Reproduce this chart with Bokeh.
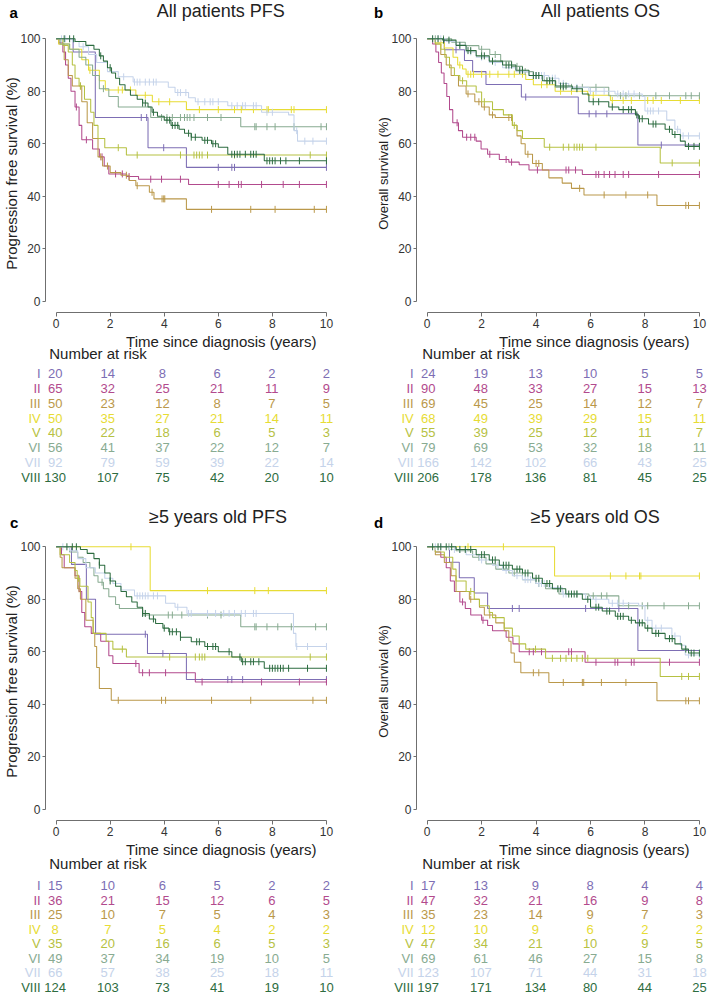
import math
from bokeh.plotting import figure
from bokeh.models import Range1d, FixedTicker, ColumnDataSource
from bokeh.layouts import column, row
from bokeh.embed import file_html
from bokeh.resources import INLINE
from bokeh.core.properties import value

FONT = "Liberation Sans"
GROUPS = ["I", "II", "III", "IV", "V", "VI", "VII", "VIII"]
COLORS = ["#7D6EB4", "#B24A8D", "#BA984A", "#E7DC34", "#B6C142", "#88AB91", "#C5D3EA", "#2D6C40"]
X_TICKS = [0, 2, 4, 6, 8, 10]
Y_TICKS = [0, 20, 40, 60, 80, 100]
RISK_TIMES = [0, 2, 4, 6, 8, 10]
X_TITLE = "Time since diagnosis (years)"
RISK_TITLE = "Number at risk"

# ---------------- Panel a: All patients PFS ----------------
A_I_T = [0, 0.63, 1.45, 3.4, 4.82, 10]
A_I_S = [100, 95, 70, 58.5, 51, 51]
A_I_C = [3.15, 3.35, 3.98, 6.0, 6.5, 6.6, 10.0]
A_II_T = [0, 0.1, 0.25, 0.35, 0.45, 0.55, 0.7, 0.85, 0.95, 1.35, 1.6, 1.78, 1.95, 2.6, 3.05, 4.9, 10]
A_II_S = [100, 98.5, 95, 90, 85, 80, 74, 67, 61.5, 58, 55, 51.5, 48.5, 47.5, 46.5, 44.5, 44.5]
A_II_C = [0.75, 1.12, 1.7, 2.2, 2.45, 2.7, 3.5, 3.9, 4.6, 6.0, 6.4, 6.75, 6.85, 7.6, 8.4, 9.0, 10.0]
A_III_T = [0, 0.1, 0.3, 0.45, 0.6, 0.95, 1.15, 1.35, 1.55, 1.72, 2.0, 2.4, 2.7, 2.95, 3.45, 3.62, 4.82, 10]
A_III_S = [100, 98, 92, 86, 82, 76, 68, 62, 55, 51.5, 49, 48, 46, 44, 41.5, 39, 35, 35]
A_III_C = [0.9, 1.65, 1.9, 2.6, 3.0, 3.55, 3.92, 3.98, 4.02, 5.75, 7.2, 8.1, 9.55, 10.0]
A_IV_T = [0, 0.1, 0.5, 0.95, 1.2, 1.6, 1.82, 2.95, 3.56, 4.82, 10]
A_IV_S = [100, 98, 96, 92, 88, 84, 80.5, 78.5, 76, 73, 73]
A_IV_C = [1.25, 2.3, 2.45, 2.75, 3.3, 3.8, 4.2, 5.3, 6.0, 6.6, 6.85, 7.3, 7.8, 7.85, 8.7, 8.8, 10.0]
A_V_T = [0, 0.25, 0.45, 0.6, 0.7, 0.85, 1.05, 1.28, 1.4, 1.55, 1.8, 2.6, 10]
A_V_S = [100, 97.5, 95, 90, 85, 82, 77, 72, 67, 62, 58.5, 55.7, 55.7]
A_V_C = [0.9, 2.3, 3.0, 4.6, 5.1, 5.2, 5.3, 5.4, 5.6, 6.6, 9.4, 10.0]
A_VI_T = [0, 0.15, 0.5, 0.85, 1.1, 1.35, 1.6, 1.95, 2.3, 3.5, 6.83, 10]
A_VI_S = [100, 98, 96, 93, 90, 86, 81, 78, 74, 70, 66.5, 66.5]
A_VI_C = [1.75, 3.9, 4.1, 4.3, 4.6, 4.75, 4.85, 4.95, 5.1, 5.6, 6.1, 7.35, 7.4, 7.8, 8.1, 8.8, 9.8, 10.0]
A_VII_T = [0, 0.6, 0.85, 1.2, 1.5, 1.9, 2.3, 2.85, 4.15, 4.4, 4.9, 5.15, 6.35, 7.6, 8.6, 8.8, 8.93, 10]
A_VII_S = [100, 99, 97, 94, 91, 87.5, 85.5, 83.5, 81.5, 79.5, 77.5, 76, 74.5, 72, 71, 65, 61, 61]
A_VII_C = [0.2, 0.35, 1.0, 2.5, 2.9, 3.0, 3.1, 3.3, 3.45, 3.6, 3.7, 4.5, 4.6, 4.8, 5.25, 5.5, 5.7,
           5.8, 6.0, 6.5, 6.7, 6.9, 7.0, 7.3, 7.4, 7.8, 8.0, 8.9, 9.2, 9.5, 10.0]
A_VIII_T = [0, 0.7, 1.1, 1.4, 1.6, 1.75, 1.9, 2.05, 2.2, 2.35, 2.55, 2.75, 3.0, 3.2, 3.4, 3.55, 3.75,
            4.0, 4.25, 4.55, 4.75, 5.0, 5.4, 5.75, 6.0, 6.35, 7.7, 10]
A_VIII_S = [100, 99, 97.5, 96, 93.5, 91.5, 89, 87, 85, 82.5, 80.5, 78.5, 77, 75.5, 74, 72, 70.5,
            69, 67, 65.5, 64, 62.5, 61.3, 60, 58.7, 56, 53.5, 53.5]
A_VIII_C = [0.3, 0.5, 0.65, 1.65, 2.0, 3.2, 3.3, 3.6, 4.1, 4.2, 4.3, 4.4, 4.5, 4.9, 5.0, 5.15, 5.5, 5.6,
            5.8, 5.9, 6.5, 6.6, 6.7, 6.8, 7.0, 7.2, 7.3, 7.4, 7.8, 7.9, 8.0, 8.1, 8.3, 8.5, 9.0, 10.0]
A_RISK_I = [20, 14, 8, 6, 2, 2]
A_RISK_II = [65, 32, 25, 21, 11, 9]
A_RISK_III = [50, 23, 12, 8, 7, 5]
A_RISK_IV = [50, 35, 27, 21, 14, 11]
A_RISK_V = [40, 22, 18, 6, 5, 3]
A_RISK_VI = [56, 41, 37, 22, 12, 7]
A_RISK_VII = [92, 79, 59, 39, 22, 14]
A_RISK_VIII = [130, 107, 75, 42, 20, 10]

# ---------------- Panel b: All patients OS ----------------
B_I_T = [0, 0.63, 1.37, 1.67, 2.16, 3.46, 5.55, 7.74, 10]
B_I_S = [100, 95.8, 91.7, 87.5, 82.6, 77.8, 71.4, 59.5, 59.5]
B_I_C = [1.06, 3.62, 5.95, 6.2, 6.6, 8.6]
B_II_T = [0, 0.2, 0.32, 0.42, 0.52, 0.62, 0.72, 0.82, 0.94, 1.15, 1.3, 1.8, 1.98, 2.22, 2.65, 3.0, 3.38, 3.74, 5.7, 10]
B_II_S = [100, 98, 95, 91, 87, 83, 78, 73, 68, 65, 62.5, 61, 58, 56, 54, 53, 52, 50, 48.3, 48.3]
B_II_C = [1.1, 1.45, 1.6, 1.75, 2.3, 2.9, 3.1, 4.05, 5.1, 5.2, 5.45, 6.2, 6.3, 6.5, 6.7, 6.9, 7.2, 7.4, 8.5, 10.0]
B_III_T = [0, 0.3, 0.5, 0.7, 0.88, 1.15, 1.43, 1.75, 2.0, 2.28, 2.5, 3.13, 3.3, 3.45, 3.6, 3.87, 4.23,
           4.47, 4.96, 5.3, 5.76, 8.44, 10]
B_III_S = [100, 98, 94, 90, 86, 82, 79, 76, 74, 71, 70, 67, 63, 60, 56, 52.5, 50, 47, 45, 43, 40.5, 36.5, 36.5]
B_III_C = [1.5, 1.9, 2.1, 2.4, 3.0, 3.1, 3.7, 4.0, 4.1, 5.6, 6.5, 7.3, 8.1, 9.5, 9.6, 10.0]
B_IV_T = [0, 0.3, 0.63, 0.95, 1.12, 1.3, 1.43, 3.62, 3.9, 4.7, 5.9, 6.73, 10]
B_IV_S = [100, 98.5, 96.5, 93, 90, 88.5, 86.5, 84.5, 82.5, 80, 78.5, 76.5, 76.5]
B_IV_C = [0.5, 1.2, 1.5, 1.6, 1.7, 2.0, 2.3, 2.6, 3.0, 3.2, 3.5, 4.2, 4.4, 4.9, 5.3, 6.1, 6.8, 7.2,
          7.5, 8.1, 8.3, 8.6, 9.3, 10.0]
B_V_T = [0, 0.3, 0.5, 0.65, 0.82, 1.0, 1.2, 1.45, 1.8, 2.0, 2.4, 2.8, 3.13, 3.3, 3.5, 4.3, 8.56, 10]
B_V_S = [100, 98, 96, 93, 89, 86, 84, 82, 79.7, 76, 73, 71, 67, 65, 62, 58.7, 52.7, 52.7]
B_V_C = [1.3, 2.1, 3.2, 4.5, 5.0, 5.2, 5.4, 5.5, 5.6, 5.7, 6.2, 9.0, 10.0]
B_VI_T = [0, 0.9, 1.4, 1.9, 2.3, 2.7, 3.1, 3.5, 3.9, 4.3, 4.7, 6.67, 10]
B_VI_S = [100, 98.7, 97.4, 96, 94, 91.5, 89.5, 87.5, 86, 84, 81.5, 78.3, 78.3]
B_VI_C = [0.3, 0.6, 2.0, 2.5, 3.3, 3.6, 4.0, 4.5, 5.0, 5.3, 5.7, 6.2, 7.1, 7.3, 7.8, 8.4, 8.9, 9.5, 9.7, 10.0]
B_VII_T = [0, 0.7, 1.06, 1.43, 1.8, 2.28, 2.77, 3.26, 3.74, 4.47, 4.84, 5.2, 5.94, 6.9, 7.9, 8.0, 8.8, 9.1, 9.3, 10]
B_VII_S = [100, 99, 97.5, 95, 93, 91, 89, 87.5, 86, 85, 83, 81.5, 80, 79, 78, 72.5, 69, 65.5, 63, 63]
B_VII_C = [0.2, 0.4, 0.5, 1.2, 1.6, 2.0, 2.5, 3.0, 3.4, 3.9, 4.0, 4.1, 4.2, 4.3, 4.6, 4.7, 5.0, 5.5,
           6.0, 6.2, 6.5, 7.0, 7.2, 7.4, 7.6, 8.1, 8.2, 8.3, 8.5, 9.2, 9.4, 9.6, 10.0]
B_VIII_T = [0, 0.57, 1.06, 1.43, 1.8, 2.28, 2.77, 3.26, 3.74, 4.23, 4.72, 5.33, 5.7, 5.94, 6.67, 7.04,
            7.65, 7.77, 8.13, 8.74, 9.0, 9.3, 9.48, 10]
B_VIII_S = [100, 99.5, 97.5, 95.5, 93.5, 91.5, 90, 88, 86, 84, 82, 81, 79, 76, 74, 73, 71, 69.5, 67.5,
            65.5, 63.5, 61, 59, 59]
B_VIII_C = [0.2, 0.4, 0.6, 0.8, 1.2, 1.5, 1.6, 2.0, 2.1, 2.4, 2.9, 3.0, 3.1, 3.4, 3.5, 3.9, 4.0, 4.1,
            4.4, 4.5, 4.6, 4.9, 5.0, 5.1, 5.5, 6.1, 6.3, 6.8, 7.2, 7.4, 7.5, 7.7, 7.8, 7.9, 8.3, 8.4,
            8.9, 9.1, 9.6, 9.8, 10.0]
B_RISK_I = [24, 19, 13, 10, 5, 5]
B_RISK_II = [90, 48, 33, 27, 15, 13]
B_RISK_III = [69, 45, 25, 14, 12, 7]
B_RISK_IV = [68, 49, 39, 29, 15, 11]
B_RISK_V = [55, 39, 25, 12, 11, 7]
B_RISK_VI = [79, 69, 53, 32, 18, 11]
B_RISK_VII = [166, 142, 102, 66, 43, 25]
B_RISK_VIII = [206, 178, 136, 81, 45, 25]

# ---------------- Panel c: >=5 years old PFS ----------------
C_I_T = [0, 0.57, 1.12, 1.46, 3.38, 4.82, 10]
C_I_S = [100, 93.3, 80, 66.7, 59.3, 49.4, 49.4]
C_I_C = [3.3, 3.95, 6.35, 6.5, 6.9, 10.0]
C_II_T = [0, 0.2, 0.3, 0.7, 0.85, 0.95, 1.06, 1.3, 1.65, 1.95, 2.1, 3.07, 5.15, 10]
C_II_S = [100, 97, 92, 89, 83, 75, 69.5, 67, 64, 58.5, 55.5, 52, 48.5, 48.5]
C_II_C = [2.95, 3.2, 3.45, 4.05, 5.4, 7.6, 9.0, 10.0]
C_III_T = [0, 0.15, 0.22, 0.7, 0.8, 0.9, 1.1, 1.37, 1.43, 1.5, 1.6, 2.04, 10]
C_III_S = [100, 96, 92, 88, 84, 80, 72, 67, 62, 54, 46, 41.5, 41.5]
C_III_C = [0.85, 2.3, 3.9, 4.05, 5.75, 7.2, 9.5, 10.0]
C_IV_T = [0, 3.48, 10]
C_IV_S = [100, 83.3, 83.3]
C_IV_C = [2.77, 5.6, 7.35, 7.85, 10.0]
C_V_T = [0, 0.15, 0.5, 0.7, 0.78, 0.88, 1.18, 1.3, 1.37, 1.85, 2.1, 2.6, 10]
C_V_S = [100, 97, 94, 91, 88, 85, 79, 73, 67, 64, 61, 58, 58]
C_V_C = [0.83, 2.45, 4.2, 5.15, 5.3, 5.4, 5.5, 9.4, 10.0]
C_VI_T = [0, 0.5, 0.8, 1.0, 1.25, 1.4, 1.55, 1.75, 1.95, 2.2, 2.34, 3.2, 6.83, 10]
C_VI_S = [100, 98, 96, 94, 92, 89, 86.5, 84, 81, 78, 76.5, 74, 69.5, 69.5]
C_VI_C = [1.7, 4.15, 4.3, 4.65, 5.6, 6.1, 7.35, 7.4, 7.8, 8.2, 8.7, 9.6, 10.0]
C_VII_T = [0, 0.5, 0.8, 1.1, 1.45, 1.8, 2.1, 2.4, 2.9, 4.05, 4.4, 4.84, 8.78, 8.87, 10]
C_VII_S = [100, 98.5, 95.5, 92, 90, 88, 86, 83.5, 81.3, 78.5, 77, 74.6, 67, 62, 62]
C_VII_C = [0.25, 3.0, 3.1, 3.2, 3.3, 3.4, 3.6, 3.75, 4.5, 4.9, 5.0, 5.6, 5.9, 6.2, 6.4, 6.6, 6.85,
           7.0, 7.3, 7.4, 8.9, 9.3, 10.0]
C_VIII_T = [0, 0.9, 1.15, 1.4, 1.6, 1.8, 2.0, 2.2, 2.4, 2.6, 2.8, 3.0, 3.2, 3.45, 3.68, 3.95, 4.17,
            4.6, 5.0, 5.5, 6.0, 6.5, 6.85, 7.7, 10]
C_VIII_S = [100, 99, 97.5, 95.5, 93, 90, 87, 85, 83, 81, 79, 77, 74.6, 72.5, 70.8, 69, 67.6, 65.5,
            63.8, 62, 60, 58, 56.2, 53.7, 53.7]
C_VIII_C = [0.4, 0.6, 0.75, 1.6, 2.0, 3.2, 3.3, 3.6, 4.0, 4.2, 4.3, 4.45, 4.6, 5.2, 5.3, 5.6, 5.8,
            5.9, 6.4, 6.8, 6.9, 7.0, 7.2, 7.3, 7.5, 7.9, 8.0, 8.1, 8.2, 8.3, 8.4, 8.6, 9.3, 10.0]
C_RISK_I = [15, 10, 6, 5, 2, 2]
C_RISK_II = [36, 21, 15, 12, 6, 5]
C_RISK_III = [25, 10, 7, 5, 4, 3]
C_RISK_IV = [8, 7, 5, 4, 2, 2]
C_RISK_V = [35, 20, 16, 6, 5, 3]
C_RISK_VI = [49, 37, 34, 19, 10, 5]
C_RISK_VII = [66, 57, 38, 25, 18, 11]
C_RISK_VIII = [124, 103, 73, 41, 19, 10]

# ---------------- Panel d: >=5 years old OS ----------------
D_I_T = [0, 0.82, 1.18, 1.73, 2.22, 7.74, 10]
D_I_S = [100, 94.1, 88.2, 82.4, 76.5, 60.5, 60.5]
D_I_C = [3.13, 3.38, 5.82, 7.04]
D_II_T = [0, 0.3, 0.5, 0.7, 0.85, 1.0, 1.2, 1.4, 1.6, 2.0, 2.22, 2.4, 2.9, 3.15, 3.38, 5.8, 10]
D_II_S = [100, 98, 96, 92, 87, 83, 79, 76.5, 74, 72, 70, 68, 65.5, 63, 60, 56, 56]
D_II_C = [1.3, 2.05, 3.75, 3.9, 4.2, 5.2, 5.3, 6.2, 6.9, 7.0, 7.5, 7.6, 8.9, 10.0]
D_III_T = [0, 0.3, 0.63, 0.88, 1.06, 1.55, 1.92, 2.1, 2.52, 2.83, 3.0, 3.08, 3.2, 3.44, 4.47, 8.44, 10]
D_III_S = [100, 97, 94, 89, 83, 80, 77, 74, 71, 68, 64, 59.5, 56, 52, 48.3, 41.3, 41.3]
D_III_C = [1.6, 2.3, 3.9, 4.1, 5.0, 5.7, 5.75, 6.4, 7.3, 9.5, 9.6, 10.0]
D_IV_T = [0, 4.68, 10]
D_IV_S = [100, 88.9, 88.9]
D_IV_C = [1.5, 2.8, 6.73, 7.3, 7.8, 7.85, 10.0]
D_V_T = [0, 0.3, 0.63, 0.94, 1.06, 1.43, 1.73, 1.92, 2.28, 2.4, 2.83, 3.13, 3.38, 3.62, 4.35, 8.56, 10]
D_V_S = [100, 98, 96, 91.5, 87, 83, 80, 77.5, 75, 73, 69, 66, 63, 61, 57.5, 50.6, 50.6]
D_V_C = [1.6, 3.98, 4.6, 4.9, 5.1, 5.3, 5.5, 5.7, 5.9, 9.35, 9.6, 10.0]
D_VI_T = [0, 1.06, 1.67, 2.16, 2.52, 3.0, 3.5, 3.99, 4.35, 4.84, 5.94, 7.04, 10]
D_VI_S = [100, 98.5, 96, 93.5, 91.5, 90, 87.5, 86, 84, 82, 81.3, 77.5, 77.5]
D_VI_C = [0.8, 1.9, 3.2, 4.1, 5.5, 6.1, 6.4, 6.6, 7.4, 7.9, 8.1, 8.7, 9.6, 10.0]
D_VII_T = [0, 0.82, 1.43, 1.92, 2.4, 2.77, 3.13, 3.5, 3.99, 4.47, 4.96, 5.82, 6.67, 7.77, 8.0, 8.26,
           8.99, 9.3, 9.48, 10]
D_VII_S = [100, 99, 97, 95, 93, 91, 89, 87.5, 86, 84.5, 82, 80, 78.5, 77.5, 72, 69, 66, 62.5, 58.8, 58.8]
D_VII_C = [0.3, 0.5, 1.0, 1.2, 2.0, 2.6, 2.9, 3.3, 3.6, 3.7, 3.8, 4.1, 4.2, 4.3, 5.0, 5.1, 6.0, 6.2,
           6.8, 7.0, 7.2, 8.1, 8.4, 8.6, 9.1, 9.6, 10.0]
D_VIII_T = [0, 1.06, 1.8, 2.28, 2.65, 3.13, 3.5, 3.87, 4.23, 4.6, 5.09, 5.7, 6.0, 6.43, 6.91, 7.4,
            7.65, 8.0, 8.26, 8.74, 9.1, 9.35, 9.6, 10]
D_VIII_S = [100, 99, 97, 95, 93, 91.5, 90, 88, 86, 84, 82, 80, 77, 75.5, 73.5, 72, 71, 69, 67, 65,
            63, 61, 59.5, 59.5]
D_VIII_C = [0.2, 0.4, 0.5, 0.7, 0.9, 1.2, 1.4, 1.6, 2.0, 2.1, 2.4, 2.5, 2.8, 2.9, 3.0, 3.3, 3.4, 3.6,
            3.7, 4.0, 4.1, 4.4, 4.5, 4.8, 4.9, 5.2, 5.3, 5.4, 5.5, 5.9, 6.2, 6.3, 6.6, 6.7, 7.0, 7.1,
            7.2, 7.5, 7.8, 7.9, 8.1, 8.4, 8.5, 8.9, 9.0, 9.5, 9.7, 9.8, 10.0]
D_RISK_I = [17, 13, 9, 8, 4, 4]
D_RISK_II = [47, 32, 21, 16, 9, 8]
D_RISK_III = [35, 23, 14, 9, 7, 3]
D_RISK_IV = [12, 10, 9, 6, 2, 2]
D_RISK_V = [47, 34, 21, 10, 9, 5]
D_RISK_VI = [69, 61, 46, 27, 15, 8]
D_RISK_VII = [123, 107, 71, 44, 31, 18]
D_RISK_VIII = [197, 171, 134, 80, 44, 25]

PANELS = [
    dict(letter="a", title="All patients PFS", ylabel="Progression free survival (%)", ysize="15px",
         curves=[(A_I_T, A_I_S, A_I_C), (A_II_T, A_II_S, A_II_C), (A_III_T, A_III_S, A_III_C),
                 (A_IV_T, A_IV_S, A_IV_C), (A_V_T, A_V_S, A_V_C), (A_VI_T, A_VI_S, A_VI_C),
                 (A_VII_T, A_VII_S, A_VII_C), (A_VIII_T, A_VIII_S, A_VIII_C)],
         risk=[A_RISK_I, A_RISK_II, A_RISK_III, A_RISK_IV, A_RISK_V, A_RISK_VI, A_RISK_VII, A_RISK_VIII]),
    dict(letter="b", title="All patients OS", ylabel="Overall survival (%)", ysize="13px",
         curves=[(B_I_T, B_I_S, B_I_C), (B_II_T, B_II_S, B_II_C), (B_III_T, B_III_S, B_III_C),
                 (B_IV_T, B_IV_S, B_IV_C), (B_V_T, B_V_S, B_V_C), (B_VI_T, B_VI_S, B_VI_C),
                 (B_VII_T, B_VII_S, B_VII_C), (B_VIII_T, B_VIII_S, B_VIII_C)],
         risk=[B_RISK_I, B_RISK_II, B_RISK_III, B_RISK_IV, B_RISK_V, B_RISK_VI, B_RISK_VII, B_RISK_VIII]),
    dict(letter="c", title="\u22655 years old PFS", ylabel="Progression free survival (%)", ysize="15px",
         curves=[(C_I_T, C_I_S, C_I_C), (C_II_T, C_II_S, C_II_C), (C_III_T, C_III_S, C_III_C),
                 (C_IV_T, C_IV_S, C_IV_C), (C_V_T, C_V_S, C_V_C), (C_VI_T, C_VI_S, C_VI_C),
                 (C_VII_T, C_VII_S, C_VII_C), (C_VIII_T, C_VIII_S, C_VIII_C)],
         risk=[C_RISK_I, C_RISK_II, C_RISK_III, C_RISK_IV, C_RISK_V, C_RISK_VI, C_RISK_VII, C_RISK_VIII]),
    dict(letter="d", title="\u22655 years old OS", ylabel="Overall survival (%)", ysize="13px",
         curves=[(D_I_T, D_I_S, D_I_C), (D_II_T, D_II_S, D_II_C), (D_III_T, D_III_S, D_III_C),
                 (D_IV_T, D_IV_S, D_IV_C), (D_V_T, D_V_S, D_V_C), (D_VI_T, D_VI_S, D_VI_C),
                 (D_VII_T, D_VII_S, D_VII_C), (D_VIII_T, D_VIII_S, D_VIII_C)],
         risk=[D_RISK_I, D_RISK_II, D_RISK_III, D_RISK_IV, D_RISK_V, D_RISK_VI, D_RISK_VII, D_RISK_VIII]),
]

# ---------------- layout / style (pixels) ----------------
COL_W = [373, 335]
LEFT = 42
FW = 288
X0, X1 = -0.392, 10.15
KX = FW / (X1 - X0)
Y0, Y1 = -4.31, 101.64
KM_TOP, KM_FH, KM_BOT = 4, 278, 20
KM_H = KM_TOP + KM_FH + KM_BOT
HDR_H = [30, 32]
TAB_H = [174, 156]
ROW_PX = [14.77, 14.5]
ROW1_PX = [41.3, 45.0]
HEAD_PX = [21.0, 23.0]
XLAB_PX = [8.6, 8.6]
AXIS_COLOR = "#6f6f6f"
TEXT_COLOR = "#222222"
TITLE_X = [220.3, 227.0, 217.5, 221.8]
TITLE_Y = [10.3, 10.3, 10.3, 10.3]
LETTER_X = [9.0, 0.4, 9.5, 0.4]
LETTER_Y = [11.5, 11.5, 15.5, 15.5]


def step_value(t, s, x):
    v = s[0]
    for ti, si in zip(t, s):
        if ti <= x:
            v = si
        else:
            break
    return v


def bare(p):
    p.outline_line_color = None
    p.grid.visible = False
    p.background_fill_color = "white"
    p.border_fill_color = "white"


def header_figure(i):
    col, rw = i % 2, i // 2
    w, h = COL_W[col], HDR_H[rw]
    pn = PANELS[i]
    p = figure(width=w, height=h, x_range=Range1d(0, w), y_range=Range1d(h, 0),
               x_axis_location=None, y_axis_location=None, min_border=0,
               output_backend="svg", toolbar_location=None)
    bare(p)
    p.text(x=[LETTER_X[i]], y=[LETTER_Y[i]], text=[pn["letter"]], text_align="left",
           text_baseline="middle", text_font=value(FONT), text_font_size="15px",
           text_font_style="bold", text_color="#000000")
    p.text(x=[TITLE_X[i]], y=[TITLE_Y[i]], text=[pn["title"]], text_align="center",
           text_baseline="middle", text_font=value(FONT), text_font_size="18px",
           text_color=TEXT_COLOR)
    return p


def km_figure(i):
    col = i % 2
    w = COL_W[col]
    pn = PANELS[i]
    p = figure(width=w, height=KM_H, x_range=Range1d(X0, X1), y_range=Range1d(Y0, Y1),
               min_border_left=LEFT, min_border_right=w - LEFT - FW,
               min_border_top=KM_TOP, min_border_bottom=KM_BOT,
               output_backend="svg", toolbar_location=None)
    bare(p)
    for (t, s, c), color in zip(pn["curves"], COLORS):
        p.step(x=t, y=s, mode="after", line_color=color, line_width=1.05)
        cy = [step_value(t, s, x) for x in c]
        p.scatter(x=c, y=cy, marker="dash", angle=math.pi / 2, size=7,
                  line_color=color, line_width=1.0)
    xa, ya = p.xaxis[0], p.yaxis[0]
    for ax in (xa, ya):
        ax.axis_line_color = AXIS_COLOR
        ax.major_tick_line_color = AXIS_COLOR
        ax.minor_tick_line_color = None
        ax.major_tick_in = 0
        ax.major_label_text_font = FONT
        ax.major_label_text_font_size = "12px"
        ax.major_label_text_color = "#333333"
        ax.axis_label_text_font = FONT
        ax.axis_label_text_font_style = "normal"
        ax.axis_label_text_color = TEXT_COLOR
    xa.ticker = FixedTicker(ticks=X_TICKS, minor_ticks=[])
    xa.bounds = (X_TICKS[0], X_TICKS[-1])
    xa.major_tick_out = 4
    xa.major_label_standoff = 2
    ya.ticker = FixedTicker(ticks=Y_TICKS, minor_ticks=[])
    ya.bounds = (Y_TICKS[0], Y_TICKS[-1])
    ya.major_tick_out = 3
    ya.major_label_standoff = 2
    ya.axis_label = pn["ylabel"]
    ya.axis_label_text_font_size = pn["ysize"]
    ya.axis_label_standoff = -3
    return p


def table_figure(i):
    col, rw = i % 2, i // 2
    w, h = COL_W[col], TAB_H[rw]
    pn = PANELS[i]
    rp = ROW_PX[rw]
    left_x = X0 - LEFT / KX
    right_x = left_x + w / KX
    top = -ROW1_PX[rw] / rp
    bottom = top + h / rp
    p = figure(width=w, height=h, x_range=Range1d(left_x, right_x), y_range=Range1d(bottom, top),
               x_axis_location=None, y_axis_location=None, min_border=0,
               output_backend="svg", toolbar_location=None)
    bare(p)
    # x-axis title, right-aligned just inside the last tick, under the tick labels
    p.text(x=[X_TICKS[-1]], y=[top + XLAB_PX[rw] / rp], text=[X_TITLE],
           text_align="right", text_baseline="middle", x_offset=-10,
           text_font=value(FONT), text_font_size="15px", text_color=TEXT_COLOR)
    p.text(x=[RISK_TIMES[0]], y=[top + HEAD_PX[rw] / rp], text=[RISK_TITLE],
           text_align="left", text_baseline="middle", x_offset=-4,
           text_font=value(FONT), text_font_size="15px", text_color=TEXT_COLOR)
    rows_idx = list(range(len(GROUPS)))
    p.text(x=[RISK_TIMES[0]] * len(GROUPS), y=rows_idx, text=GROUPS, text_color=COLORS,
           text_align="right", text_baseline="middle", x_offset=-12.5,
           text_font=value(FONT), text_font_size="13px")
    xs, ys, txt, cols, xo = [], [], [], [], []
    for r, (vals, color) in enumerate(zip(pn["risk"], COLORS)):
        for j, (tm, v) in enumerate(zip(RISK_TIMES, vals)):
            xs.append(tm)
            ys.append(r)
            txt.append(str(v))
            cols.append(color)
            xo.append(2.0 if j == 0 else 0.0)
    src = ColumnDataSource(dict(x=xs, y=ys, text=txt, color=cols, xo=xo))
    p.text(x="x", y="y", text="text", text_color="color", x_offset="xo", source=src,
           text_align="center", text_baseline="middle",
           text_font=value(FONT), text_font_size="13px")
    return p


blocks = []
for r in range(2):
    blocks.append(row(header_figure(2 * r), header_figure(2 * r + 1), spacing=0))
    blocks.append(row(km_figure(2 * r), km_figure(2 * r + 1), spacing=0))
    blocks.append(row(table_figure(2 * r), table_figure(2 * r + 1), spacing=0))

layout = column(*blocks, spacing=0)

with open("out.html", "w") as f:
    f.write(file_html(layout, INLINE, title="Kaplan-Meier curves"))
